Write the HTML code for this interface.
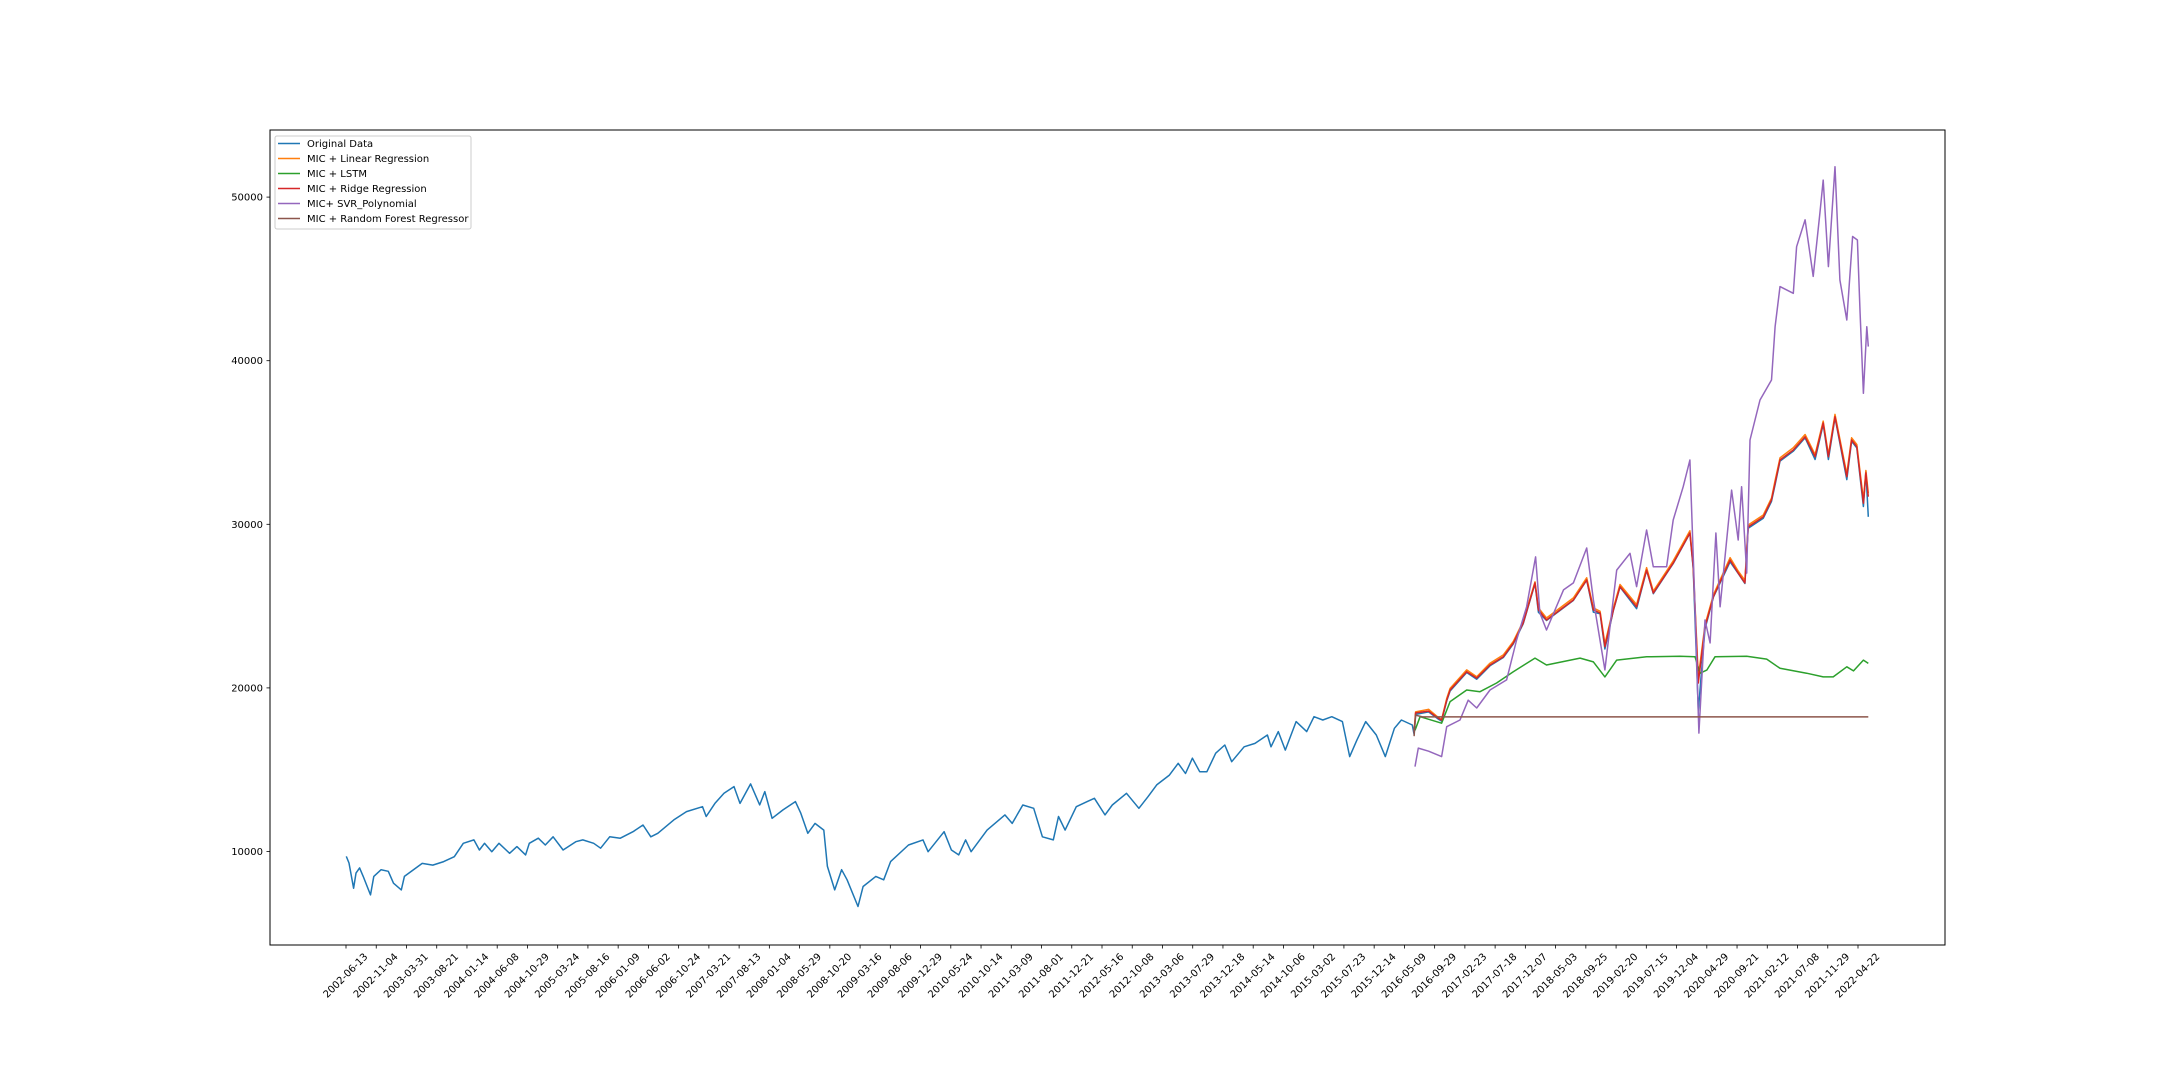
<!DOCTYPE html>
<html><head><meta charset="utf-8"><style>
html,body{margin:0;padding:0;background:#fff;}
svg{display:block;font-family:"DejaVu Sans","Liberation Sans",sans-serif;}
</style></head><body>
<svg id="chart" width="2160" height="1080" viewBox="0 0 2160 1080" xmlns="http://www.w3.org/2000/svg">
<rect x="0" y="0" width="2160" height="1080" fill="#fff"/>
<g id="plot"></g>
<rect x="270" y="130" width="1675" height="815" fill="none" stroke="#000" stroke-width="1"/>
<g id="xticks"></g>
<g id="yticks"></g>
<g>
<rect x="275" y="136" width="196" height="93" rx="2" fill="#fff" fill-opacity="0.8" stroke="#ccc" stroke-width="1"/>
<g><line x1="278" y1="143.5" x2="300" y2="143.5" stroke="#1f77b4" stroke-width="1.5"/><text x="307" y="147" font-size="10">Original Data</text></g>
<g><line x1="278" y1="158.5" x2="300" y2="158.5" stroke="#ff7f0e" stroke-width="1.5"/><text x="307" y="162" font-size="10">MIC + Linear Regression</text></g>
<g><line x1="278" y1="173.5" x2="300" y2="173.5" stroke="#2ca02c" stroke-width="1.5"/><text x="307" y="177" font-size="10">MIC + LSTM</text></g>
<g><line x1="278" y1="188.5" x2="300" y2="188.5" stroke="#d62728" stroke-width="1.5"/><text x="307" y="192" font-size="10">MIC + Ridge Regression</text></g>
<g><line x1="278" y1="203.5" x2="300" y2="203.5" stroke="#9467bd" stroke-width="1.5"/><text x="307" y="207" font-size="10">MIC+ SVR_Polynomial</text></g>
<g><line x1="278" y1="218.5" x2="300" y2="218.5" stroke="#8c564b" stroke-width="1.5"/><text x="307" y="222" font-size="10">MIC + Random Forest Regressor</text></g>
</g>
</svg>
<script>
const tickLabels=["2002-06-13","2002-11-04","2003-03-31","2003-08-21","2004-01-14","2004-06-08","2004-10-29","2005-03-24","2005-08-16","2006-01-09","2006-06-02","2006-10-24","2007-03-21","2007-08-13","2008-01-04","2008-05-29","2008-10-20","2009-03-16","2009-08-06","2009-12-29","2010-05-24","2010-10-14","2011-03-09","2011-08-01","2011-12-21","2012-05-16","2012-10-08","2013-03-06","2013-07-29","2013-12-18","2014-05-14","2014-10-06","2015-03-02","2015-07-23","2015-12-14","2016-05-09","2016-09-29","2017-02-23","2017-07-18","2017-12-07","2018-05-03","2018-09-25","2019-02-20","2019-07-15","2019-12-04","2020-04-29","2020-09-21","2021-02-12","2021-07-08","2021-11-29","2022-04-22"];
const yTicks=[10000,20000,30000,40000,50000];
const origIdx=[1,10,25,33,45,57,81,92,116,140,157,183,193,252,287,323,358,388,423,441,458,482,506,541,565,594,606,636,659,685,718,760,783,819,842,872,907,949,982,1008,1031,1084,1126,1179,1191,1220,1250,1283,1303,1338,1368,1385,1409,1445,1486,1504,1527,1551,1580,1592,1616,1639,1657,1693,1710,1752,1778,1801,1860,1908,1925,1978,2002,2026,2049,2067,2120,2179,2203,2238,2274,2303,2339,2356,2378,2415,2451,2475,2510,2534,2581,2622,2652,2681,2723,2752,2776,2799,2823,2847,2876,2906,2929,2970,3006,3047,3059,3083,3106,3142,3177,3201,3230,3260,3295,3319,3343,3372,3407,3437,3467,3490,3526,3532,3537,3580,3610,3623,3640,3651,3706,3739,3783,3827,3860,3893,3932,3943,3970,4015,4059,4103,4125,4147,4163,4191,4213,4268,4301,4323,4367,4389,4444,4455,4472,4494,4522,4577,4604,4626,4637,4687,4714,4726,4742,4786,4825,4858,4885,4902,4924,4963,4979,4996,5018,5026,5034];
const origVals=[9700,9300,7750,8680,9000,8480,7350,8480,8890,8790,8060,7650,8480,9270,9170,9380,9680,10500,10710,10090,10500,9990,10500,9890,10300,9790,10500,10810,10400,10900,10090,10600,10710,10500,10200,10900,10810,11210,11620,10900,11110,11930,12440,12740,12140,12940,13560,13970,12940,14130,12850,13660,12030,12540,13050,12340,11110,11720,11310,9090,7650,8890,8270,6640,7860,8480,8270,9380,10400,10710,9990,11210,10090,9790,10710,9990,11310,12240,11720,12840,12640,10900,10710,12140,11310,12740,13050,13250,12240,12840,13560,12640,13350,14070,14670,15390,14770,15700,14880,14880,16010,16510,15490,16400,16610,17120,16400,17330,16200,17940,17330,18240,18040,18240,17940,15800,16810,17940,17120,15800,17530,18040,17730,17150,18380,18530,18120,17970,19200,19810,20940,20530,21350,21860,22690,23920,26380,24630,24120,24740,25350,26590,24630,24530,22380,24740,26170,24840,27190,25760,26990,27600,29450,27300,18590,23610,25560,27710,26990,26380,29760,30370,31400,32420,33860,34470,35290,33960,36110,33960,36520,32730,35080,34670,31090,33240,30460];
const linIdx=[3532,3537,3580,3610,3623,3640,3651,3706,3739,3783,3827,3860,3893,3932,3943,3970,4015,4059,4103,4125,4147,4163,4191,4213,4268,4301,4323,4367,4389,4444,4455,4472,4494,4522,4577,4604,4626,4637,4687,4714,4726,4742,4786,4825,4858,4885,4902,4924,4963,4979,4996,5018,5026,5034];
const linVals=[17350,18530,18690,18220,18070,19350,19970,21100,20680,21510,22020,22840,24070,26480,24890,24270,24890,25500,26730,24890,24680,22690,24890,26320,25090,27350,25910,27140,27760,29600,27550,20640,23860,25710,27960,27140,26580,29960,30570,31600,32680,34060,34680,35490,34260,36310,34260,36720,33080,35290,34880,31500,33290,31900];
const lstmIdx=[3535,3552,3623,3651,3706,3750,3805,3860,3932,3970,4081,4125,4163,4202,4301,4411,4461,4478,4500,4527,4632,4698,4742,4830,4885,4918,4963,4985,5018,5034];
const lstmVals=[17410,18240,17840,19160,19870,19770,20300,20990,21820,21400,21820,21590,20670,21700,21900,21940,21900,20900,21090,21900,21940,21760,21200,20900,20670,20670,21290,21040,21700,21500];
const ridgeIdx=[3532,3537,3580,3610,3623,3640,3651,3706,3739,3783,3827,3860,3893,3932,3943,3970,4015,4059,4103,4125,4147,4163,4191,4213,4268,4301,4323,4367,4389,4444,4455,4472,4494,4522,4577,4604,4626,4637,4687,4714,4726,4742,4786,4825,4858,4885,4902,4924,4963,4979,4996,5018,5026,5034];
const ridgeVals=[17250,18470,18580,18170,18030,19250,19870,20990,20600,21400,21900,22740,23970,26420,24770,24150,24770,25370,26600,24770,24580,22520,24770,26190,24960,27200,25800,27020,27630,29470,27400,20300,23720,25590,27810,27020,26420,29840,30450,31490,32520,33930,34540,35350,34130,36190,34130,36580,32910,35150,34750,31290,33140,31690];
const svrIdx=[3535,3546,3580,3623,3640,3684,3711,3739,3783,3838,3871,3904,3934,3948,3970,4026,4059,4103,4125,4163,4202,4246,4268,4301,4323,4367,4389,4422,4444,4461,4474,4494,4511,4530,4544,4582,4604,4615,4632,4643,4676,4714,4726,4742,4786,4797,4825,4852,4874,4885,4902,4924,4940,4963,4982,4998,5007,5018,5029,5034];
const svrVals=[15190,16320,16130,15800,17630,18040,19250,18770,19870,20490,22930,24960,28010,24580,23540,25990,26420,28550,25370,21100,27200,28230,26190,29650,27410,27400,30260,32300,33930,24960,17240,24150,22750,29470,24960,32090,29040,32300,27020,35150,37600,38820,42080,44530,44120,46970,48610,45150,49020,51040,45750,51860,44930,42490,47590,47380,42910,38010,42080,40860];
const rfIdx=[3532,3537,3560,3600,5034];
const rfVals=[17050,18330,18230,18230,18230];

const X0=346, DX=0.3024, Y10=851.5, DY=0.01636;
function xs(i){return X0+i*DX;}
function ys(v){return Y10-(v-10000)*DY;}
const NS="http://www.w3.org/2000/svg";
const plot=document.getElementById('plot');
function series(idx,vals,color,name){
  const p=document.createElementNS(NS,'polyline');
  p.setAttribute('points',idx.map((d,k)=>xs(d).toFixed(1)+','+ys(vals[k]).toFixed(1)).join(' '));
  p.setAttribute('fill','none');p.setAttribute('stroke',color);p.setAttribute('stroke-width','1.5');
  p.setAttribute('stroke-linejoin','round');
  
  
  plot.appendChild(p);
}
series(origIdx,origVals,'#1f77b4','original-data-line');
series(linIdx,linVals,'#ff7f0e','linear-regression-line');
series(lstmIdx,lstmVals,'#2ca02c','lstm-line');
series(ridgeIdx,ridgeVals,'#d62728','ridge-regression-line');
series(svrIdx,svrVals,'#9467bd','svr-polynomial-line');
series(rfIdx,rfVals,'#8c564b','random-forest-line');

const xg=document.getElementById('xticks');
tickLabels.forEach((lab,k)=>{
  const x=xs(k*100);
  const l=document.createElementNS(NS,'line');
  l.setAttribute('x1',x);l.setAttribute('x2',x);l.setAttribute('y1',945);l.setAttribute('y2',948.5);
  l.setAttribute('stroke','#000');l.setAttribute('stroke-width','0.8');
  
  
  xg.appendChild(l);
  const t=document.createElementNS(NS,'text');
  const cy=976;
  t.setAttribute('x',x);t.setAttribute('y',cy);t.setAttribute('text-anchor','middle');
  t.setAttribute('dominant-baseline','central');t.setAttribute('font-size','10');
  t.setAttribute('transform','rotate(-45 '+x+' '+cy+')');
  t.textContent=lab;
  
  
  xg.appendChild(t);
});
const yg=document.getElementById('yticks');
yTicks.forEach(v=>{
  const y=ys(v);
  const l=document.createElementNS(NS,'line');
  l.setAttribute('x1',266.5);l.setAttribute('x2',270);l.setAttribute('y1',y);l.setAttribute('y2',y);
  l.setAttribute('stroke','#000');l.setAttribute('stroke-width','0.8');
  
  
  yg.appendChild(l);
  const t=document.createElementNS(NS,'text');
  t.setAttribute('x',263);t.setAttribute('y',y+3.5);t.setAttribute('text-anchor','end');t.setAttribute('font-size','10');
  t.textContent=String(v);
  
  
  yg.appendChild(t);
});
</script>
</body></html>
